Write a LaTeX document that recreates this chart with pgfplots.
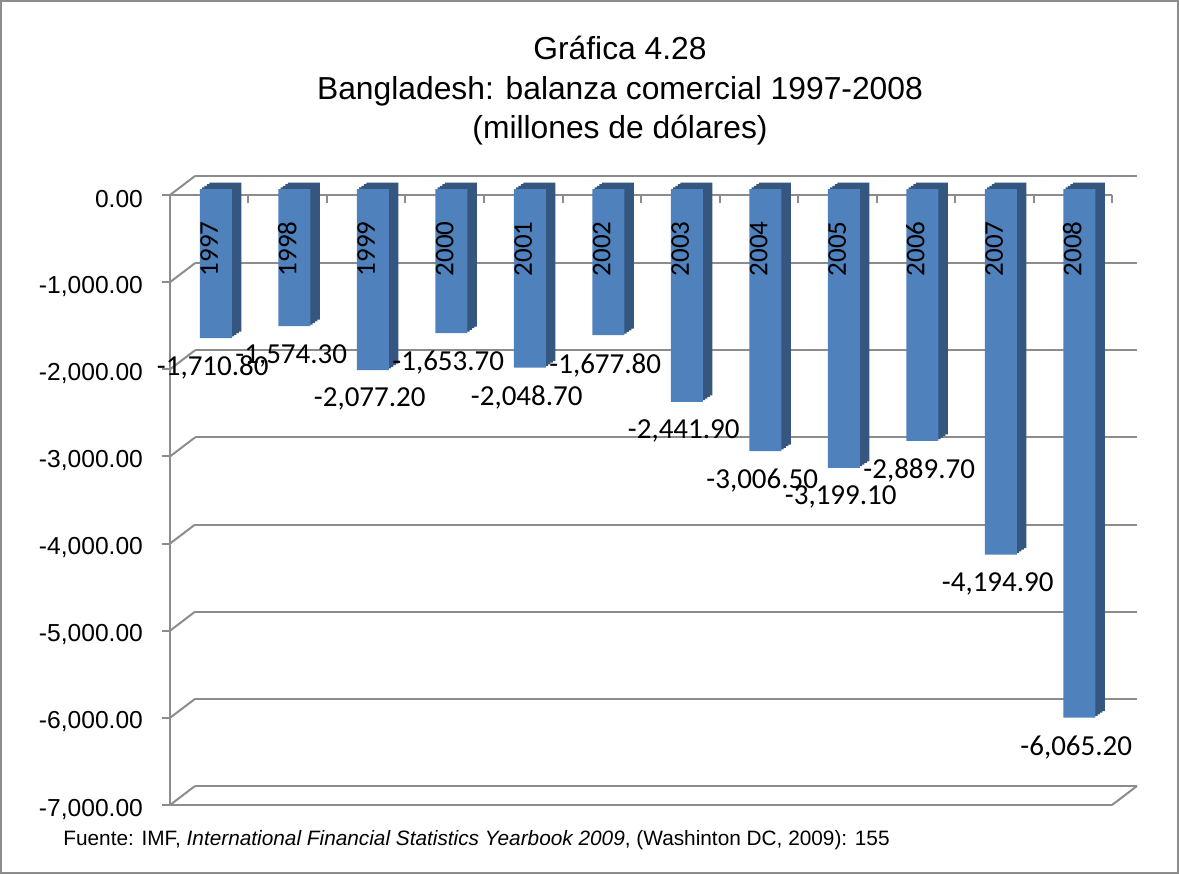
\documentclass[border=0pt]{standalone}
\usepackage{fontspec}
\setmainfont{Liberation Sans}
\newfontfamily\calibri{Carlito}
\usepackage{pgfplots}
\pgfplotsset{compat=1.18}
\usepackage{pgfplotstable}

\definecolor{gridgray}{HTML}{8C8C8C}
\definecolor{barfront}{HTML}{4F81BD}
\definecolor{barside}{HTML}{34567F}

\pgfplotstableread{
x y
0 -1710.8
1 -1574.3
2 -2077.2
3 -1653.7
4 -2048.7
5 -1677.8
6 -2441.9
7 -3006.5
8 -3199.1
9 -2889.7
10 -4194.9
11 -6065.2
}\datatable

\pgfplotsset{
  common/.style={
    scale only axis, width=471pt, height=305pt,
    xmin=-0.5, xmax=11.5, ymin=-7000, ymax=0,
    anchor=south west, clip=false,
    axis line style={draw=none},
  },
}

\begin{document}
\begin{tikzpicture}
\useasboundingbox (0,0) rectangle (589.5pt,437pt);
\draw[gridgray, line width=1.2pt] (0.6pt,0.6pt) rectangle (588.9pt,436.4pt);

% back wall gridlines
\begin{axis}[common, at={(97.5pt,44pt)},
  xtick=\empty, ytick={0,-1000,...,-7000}, yticklabels={},
  major tick length=0pt,
  ymajorgrids, major grid style={gridgray, line width=1pt}]
\end{axis}

% front frame
\begin{axis}[common, at={(85pt,34.5pt)},
  ytick={0,-1000,-2000,-3000,-4000,-5000,-6000,-7000},
  ytick pos=left,
  xtick={0.5,1.5,...,11.5}, xticklabels={}, xtick pos=right,
  tick align=outside, major tick length=4pt,
  tick style={gridgray, line width=1pt},
  x tick style={yshift=-4pt},
  yticklabel style={font=\fontsize{12.3}{14}\selectfont, xshift=-6pt, yshift=-2pt},
  y tick label style={/pgf/number format/.cd, fixed, fixed zerofill, precision=2, 1000 sep={,}, assume math mode=true},
  ]
\pgfplotsinvokeforeach{0,-1000,-2000,-3000,-4000,-5000,-6000,-7000}{
  \draw[gridgray, line width=1pt] (axis cs:-0.5,#1) -- ++(12.5pt,9.5pt);
}
\draw[gridgray, line width=1pt] (axis cs:11.5,-7000) -- ++(12.5pt,9.5pt);
\draw[gridgray, line width=1pt] (axis cs:-0.5,0) -- (axis cs:11.5,0);
\draw[gridgray, line width=1pt] (axis cs:-0.5,-7000) -- (axis cs:11.5,-7000);
\draw[gridgray, line width=1pt] (axis cs:-0.5,0) -- (axis cs:-0.5,-7000);
\end{axis}

% bars
\begin{axis}[common, at={(88.25pt,37.5pt)},
  xtick=\empty, ytick=\empty]
\addplot[ybar, bar width=16pt, bar shift=0pt, fill=barside, draw=none, xshift=4.75pt, yshift=3.25pt] table[x=x,y=y]{\datatable};
\addplot[ybar, bar width=16pt, bar shift=0pt, fill=barside, draw=none, xshift=3.56pt, yshift=2.44pt] table[x=x,y=y]{\datatable};
\addplot[ybar, bar width=16pt, bar shift=0pt, fill=barside, draw=none, xshift=2.37pt, yshift=1.62pt] table[x=x,y=y]{\datatable};
\addplot[ybar, bar width=16pt, bar shift=0pt, fill=barside, draw=none, xshift=1.19pt, yshift=0.81pt] table[x=x,y=y]{\datatable};
\addplot[ybar, bar width=16pt, bar shift=0pt, fill=barfront, draw=none,
  nodes near coords={\pgfmathprintnumber[fixed, fixed zerofill, precision=2, 1000 sep={,}, assume math mode=true]{\pgfplotspointmeta}},
  nodes near coords style={font=\calibri\fontsize{14.5}{16}\selectfont, text=black, anchor=north, yshift=-5.5pt, xshift=-1.5pt}]
  table[x=x,y=y]{\datatable};
\pgfplotsinvokeforeach{0,...,11}{
  \node[font=\calibri\fontsize{13.5}{15}\selectfont, shift={(1pt,-16pt)}, rotate=90, anchor=base east, inner sep=0pt] at (axis cs:#1,0) {\the\numexpr1997+#1\relax};
}
\end{axis}

\node[anchor=base, font=\fontsize{15.9}{19}\selectfont] at (310pt,407pt) {Gráfica 4.28};
\node[anchor=base, font=\fontsize{15.9}{19}\selectfont] at (310pt,387pt) {Bangladesh: balanza comercial 1997-2008};
\node[anchor=base, font=\fontsize{15.9}{19}\selectfont] at (310pt,367.5pt) {(millones de dólares)};
\node[anchor=base west, inner sep=0pt, font=\fontsize{10.4}{12}\selectfont] at (31.5pt,14.5pt) {Fuente: IMF, \textit{International Financial Statistics Yearbook 2009}, (Washinton DC, 2009): 155};
\end{tikzpicture}
\end{document}
